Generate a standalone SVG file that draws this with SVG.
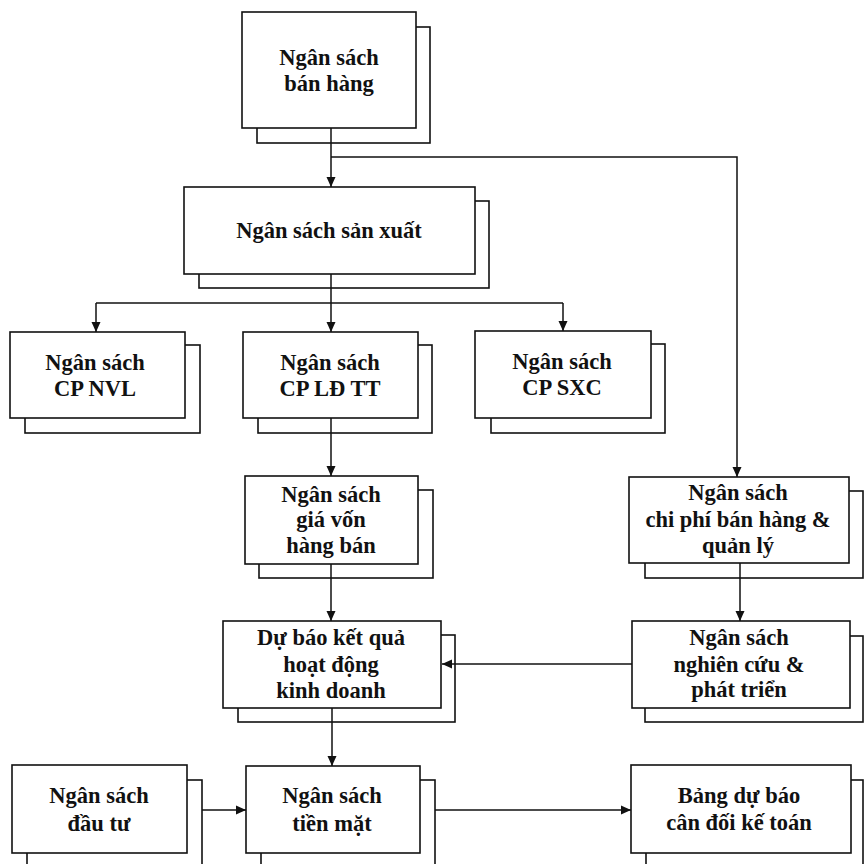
<svg xmlns="http://www.w3.org/2000/svg" width="864" height="864" viewBox="0 0 864 864">
<style>
.bx{fill:#fff;stroke:#111;stroke-width:1.6}
.ln{fill:none;stroke:#111;stroke-width:1.5}
.t{font-family:"Liberation Serif","Times New Roman",serif;font-weight:bold;font-size:22.5px;fill:#111;text-anchor:middle}
</style>
<defs>
<marker id="ah" viewBox="0 0 10 10" refX="10" refY="5" markerWidth="10" markerHeight="10" markerUnits="userSpaceOnUse" orient="auto">
<path d="M0,0.5 L10,5 L0,9.5 Z" fill="#111"/>
</marker>
</defs>
<rect width="864" height="864" fill="#fff"/>

<g id="ban-hang">
<rect class="bx" x="257" y="27" width="173" height="116"/>
<rect class="bx" x="242" y="12" width="174" height="116"/>
<text class="t" x="329" y="65">Ngân sách</text>
<text class="t" x="329" y="91">bán hàng</text>
</g>

<g id="san-xuat">
<rect class="bx" x="199" y="201" width="290" height="87"/>
<rect class="bx" x="184" y="187" width="291" height="87"/>
<text class="t" x="329" y="238">Ngân sách sản xuất</text>
</g>

<g id="cp-nvl">
<rect class="bx" x="25" y="345" width="175" height="88"/>
<rect class="bx" x="10" y="332" width="175" height="86"/>
<text class="t" x="95" y="370">Ngân sách</text>
<text class="t" x="95" y="396">CP NVL</text>
</g>

<g id="cp-ldtt">
<rect class="bx" x="258" y="345" width="174" height="88"/>
<rect class="bx" x="243" y="332" width="175" height="86"/>
<text class="t" x="330" y="370">Ngân sách</text>
<text class="t" x="330" y="396">CP LĐ TT</text>
</g>

<g id="cp-sxc">
<rect class="bx" x="491" y="344" width="174" height="89"/>
<rect class="bx" x="475" y="331" width="176" height="87"/>
<text class="t" x="562" y="369">Ngân sách</text>
<text class="t" x="562" y="395">CP SXC</text>
</g>

<g id="gia-von">
<rect class="bx" x="259" y="490" width="174" height="88"/>
<rect class="bx" x="245" y="476" width="173" height="88"/>
<text class="t" x="331" y="502">Ngân sách</text>
<text class="t" x="331" y="527">giá vốn</text>
<text class="t" x="331" y="553">hàng bán</text>
</g>

<g id="du-bao-kqkd">
<rect class="bx" x="238" y="635" width="217" height="87"/>
<rect class="bx" x="223" y="621" width="218" height="87"/>
<text class="t" x="331" y="645">Dự báo kết quả</text>
<text class="t" x="331" y="672">hoạt động</text>
<text class="t" x="331" y="698">kinh doanh</text>
</g>

<g id="cp-ban-hang-ql">
<rect class="bx" x="645" y="491" width="218" height="87"/>
<rect class="bx" x="629" y="477" width="220" height="86"/>
<text class="t" x="738" y="500">Ngân sách</text>
<text class="t" x="738" y="527">chi phí bán hàng &amp;</text>
<text class="t" x="738" y="553">quản lý</text>
</g>

<g id="nghien-cuu">
<rect class="bx" x="645" y="636" width="218" height="86"/>
<rect class="bx" x="632" y="621" width="218" height="87"/>
<text class="t" x="739" y="645">Ngân sách</text>
<text class="t" x="739" y="672">nghiên cứu &amp;</text>
<text class="t" x="739" y="697">phát triển</text>
</g>

<g id="dau-tu">
<rect class="bx" x="27" y="780" width="175" height="100"/>
<rect class="bx" x="12" y="765" width="175" height="88"/>
<text class="t" x="99" y="803">Ngân sách</text>
<text class="t" x="99" y="831">đầu tư</text>
</g>

<g id="tien-mat">
<rect class="bx" x="261" y="780" width="174" height="100"/>
<rect class="bx" x="246" y="766" width="174" height="87"/>
<text class="t" x="332" y="803">Ngân sách</text>
<text class="t" x="332" y="831">tiền mặt</text>
</g>

<g id="bang-can-doi">
<rect class="bx" x="646" y="780" width="217" height="100"/>
<rect class="bx" x="631" y="765" width="220" height="88"/>
<text class="t" x="739" y="803">Bảng dự báo</text>
<text class="t" x="739" y="830">cân đối kế toán</text>
</g>

<g id="connectors">
<path class="ln" d="M331,128 V187" marker-end="url(#ah)"/>
<path class="ln" d="M331,157 H737 V477" marker-end="url(#ah)"/>
<path class="ln" d="M331,274 V332" marker-end="url(#ah)"/>
<path class="ln" d="M96,303 H563"/>
<path class="ln" d="M96,303 V332" marker-end="url(#ah)"/>
<path class="ln" d="M563,303 V331" marker-end="url(#ah)"/>
<path class="ln" d="M331,418 V476" marker-end="url(#ah)"/>
<path class="ln" d="M331,564 V621" marker-end="url(#ah)"/>
<path class="ln" d="M740,563 V621" marker-end="url(#ah)"/>
<path class="ln" d="M632,664 H442" marker-end="url(#ah)"/>
<path class="ln" d="M332,708 V766" marker-end="url(#ah)"/>
<path class="ln" d="M202,810 H246" marker-end="url(#ah)"/>
<path class="ln" d="M435,810 H631" marker-end="url(#ah)"/>
</g>
</svg>
